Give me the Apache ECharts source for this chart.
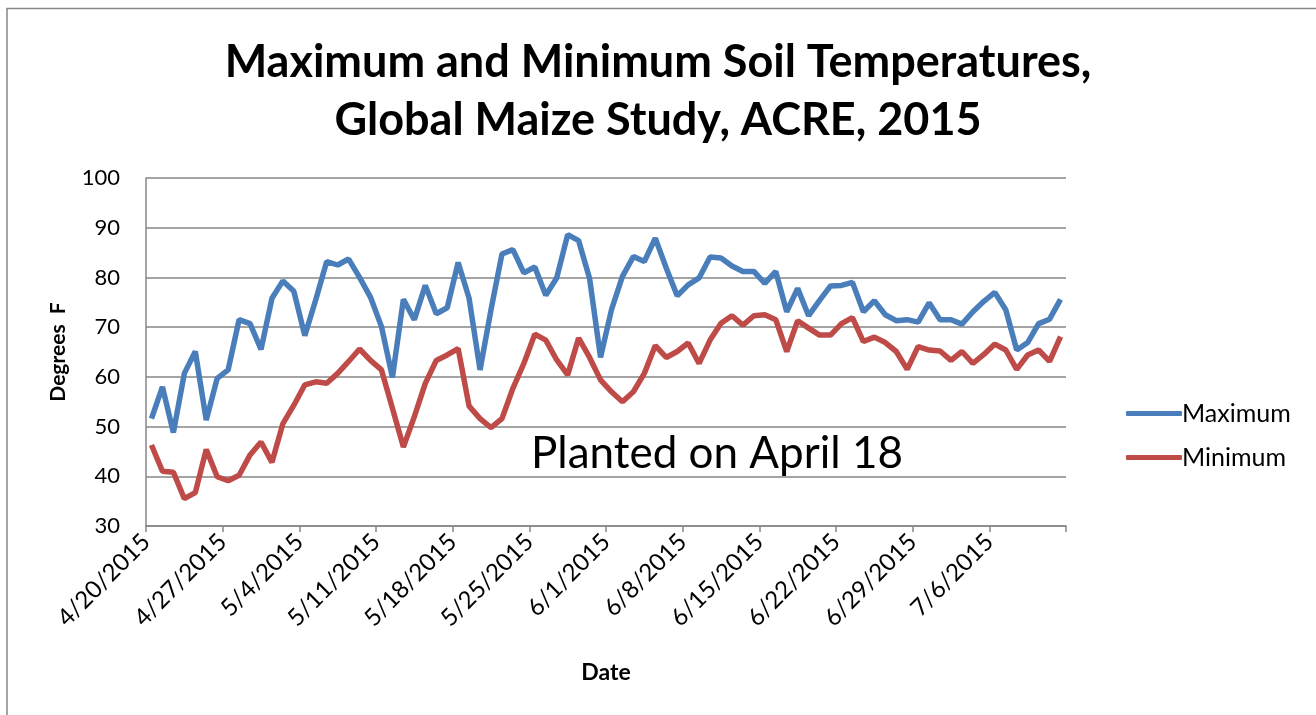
<!DOCTYPE html>
<html>
<head>
<meta charset="utf-8">
<script src="https://cdn.jsdelivr.net/npm/echarts@6/dist/echarts.min.js"></script>
<style>
  html, body { margin: 0; padding: 0; background: #fff; }
  #chart { width: 1316px; height: 715px; }
</style>
</head>
<body>
<div id="chart"></div>
<script>
/* ---------- data ---------- */
// one reading per day, 4/20/2015 .. 7/12/2015
const maxTemp = [
  51.6, 58.0, 48.8, 60.7, 65.1, 51.3, 59.7, 61.4, 71.5, 70.7,
  65.5, 75.8, 79.3, 77.2, 68.3, 75.5, 83.2, 82.5, 83.7, 80.0,
  76.0, 70.1, 59.9, 75.6, 71.5, 78.4, 72.7, 73.9, 83.0, 75.8,
  61.4, 73.5, 84.7, 85.6, 80.9, 82.1, 76.4, 79.9, 88.6, 87.4,
  79.8, 63.9, 73.5, 80.2, 84.2, 83.2, 87.9, 81.9, 76.3, 78.5,
  79.9, 84.1, 83.9, 82.3, 81.2, 81.2, 78.8, 81.2, 73.1, 77.8,
  72.3, 75.4, 78.3, 78.4, 79.0, 73.1, 75.3, 72.5, 71.3, 71.5,
  71.0, 74.9, 71.5, 71.5, 70.6, 73.1, 75.2, 77.0, 73.5, 65.4,
  66.9, 70.7, 71.6, 75.6
];
const minTemp = [
  46.3, 41.0, 40.8, 35.5, 36.7, 45.4, 39.9, 39.1, 40.2, 44.3,
  46.9, 42.8, 50.6, 54.3, 58.4, 59.0, 58.7, 60.7, 63.1, 65.6,
  63.3, 61.4, 53.7, 45.9, 52.0, 58.7, 63.3, 64.4, 65.7, 54.1,
  51.6, 49.8, 51.6, 57.7, 62.7, 68.6, 67.4, 63.4, 60.4, 67.8,
  63.9, 59.4, 57.0, 55.0, 57.0, 60.7, 66.3, 63.9, 65.1, 66.8,
  62.7, 67.4, 70.8, 72.3, 70.4, 72.3, 72.5, 71.5, 65.1, 71.3,
  69.8, 68.4, 68.4, 70.7, 71.9, 67.1, 68.0, 66.9, 65.1, 61.5,
  66.1, 65.4, 65.2, 63.3, 65.1, 62.7, 64.5, 66.6, 65.4, 61.5,
  64.4, 65.4, 63.1, 68.1
];
// weekly ticks, every 7 days from 4/20/2015
const tickLabels = [
  "4/20/2015", "4/27/2015", "5/4/2015", "5/11/2015", "5/18/2015",
  "5/25/2015", "6/1/2015", "6/8/2015", "6/15/2015", "6/22/2015",
  "6/29/2015", "7/6/2015", ""
];
const seriesNames = ["Maximum", "Minimum"];
const seriesColors = ["#4a7ebb", "#be4b48"];

/* ---------- chart ---------- */
const chart = echarts.init(document.getElementById("chart"));
const FONT = "Lato";
const GREY = "#868686";

// each day sits in the middle of its slot (Excel date axis)
const toPoints = (arr) => arr.map((v, i) => [i + 0.5, v]);

const option = {
  animation: false,
  textStyle: { fontFamily: FONT, color: "#000" },
  title: {
    text: "Maximum and Minimum Soil Temperatures,\nGlobal Maize Study, ACRE, 2015",
    left: "center",
    top: 28,
    textStyle: { fontFamily: FONT, fontWeight: "bold", fontSize: 45, lineHeight: 58, color: "#000" },
  },
  grid: { left: 146, right: 250, top: 178, bottom: 189, containLabel: false },
  xAxis: {
    type: "value",
    min: 0,
    max: 84,
    interval: 7,
    name: "Date",
    nameLocation: "middle",
    nameGap: 135,
    nameTextStyle: { fontFamily: FONT, fontWeight: "bold", fontSize: 23, color: "#000" },
    axisLine: { lineStyle: { color: GREY, width: 1.5 } },
    axisTick: { show: true, length: 6, lineStyle: { color: GREY, width: 1.5 } },
    splitLine: { show: false },
    axisLabel: {
      rotate: 45,
      fontSize: 24,
      color: "#000",
      margin: 12,
      showMaxLabel: true,
      formatter: (v) => tickLabels[Math.round(v / 7)] || "",
    },
  },
  yAxis: {
    type: "value",
    min: 30,
    max: 100,
    interval: 10,
    name: "Degrees  F",
    nameLocation: "middle",
    nameRotate: 90,
    nameGap: 77,
    nameTextStyle: { fontFamily: FONT, fontWeight: "bold", fontSize: 21, color: "#000" },
    axisLine: { show: true, lineStyle: { color: GREY, width: 1.5 } },
    axisTick: { show: false },
    splitLine: { lineStyle: { color: GREY, width: 1.5 } },
    axisLabel: { fontSize: 22, color: "#000", margin: 26 },
  },
  legend: {
    orient: "vertical",
    left: 1121,
    top: 396,
    icon: "roundRect",
    itemWidth: 56,
    itemHeight: 5,
    itemGap: 19,
    textStyle: { fontFamily: FONT, fontSize: 25, color: "#000", padding: [0, 0, 0, -5] },
    data: seriesNames,
  },
  series: [
    {
      name: seriesNames[0],
      type: "line",
      data: toPoints(maxTemp),
      symbol: "none",
      lineStyle: { color: seriesColors[0], width: 5.5 },
      itemStyle: { color: seriesColors[0] },
    },
    {
      name: seriesNames[1],
      type: "line",
      data: toPoints(minTemp),
      symbol: "none",
      lineStyle: { color: seriesColors[1], width: 5.5 },
      itemStyle: { color: seriesColors[1] },
    },
  ],
  graphic: [
    {
      type: "polyline",
      shape: { points: [[7, 716], [7, 8.5], [1317, 8.5]] },
      style: { stroke: GREY, lineWidth: 1.5, fill: null },
    },
    {
      type: "text",
      left: 531,
      top: 432,
      style: { text: "Planted on April 18", fontFamily: FONT, fontSize: 44, fill: "#000" },
    },
  ],
};

chart.setOption(option);
window.addEventListener("resize", () => chart.resize());
</script>
</body>
</html>
